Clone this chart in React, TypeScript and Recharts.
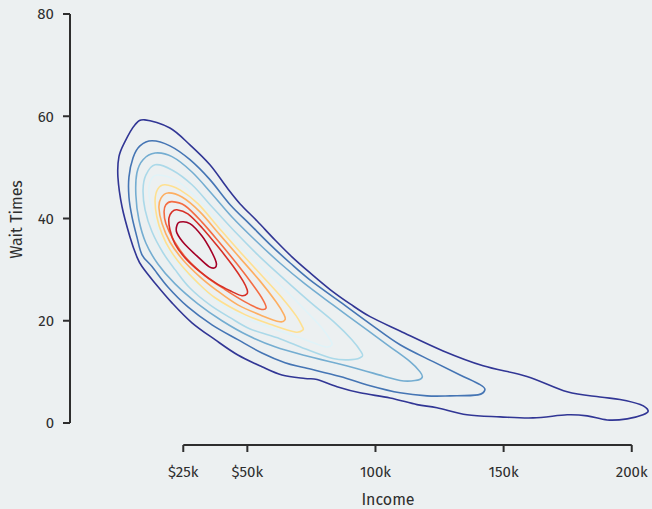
import { ComposedChart, Line, XAxis, YAxis } from "recharts";

// axis ticks
const incomeTicks = [25, 50, 100, 150, 200];
const incomeTickLabels = ["$25k", "$50k", "100k", "150k", "200k"];
const waitTicks = [0, 20, 40, 60, 80];
// visible income range across the plot, in $k
const incomeDomain = [-19.2, 207.9];

// density contours, outermost first: [income in $k, wait time]
const level1 = [
  [10, 59.3], [19.8, 57.7], [27.6, 54.4], [35.4, 50.5], [42.1, 46.0], [47.1, 42.9], [53.8, 39.5],
  [60.8, 35.8], [67.4, 32.5], [74.4, 29.4], [82.3, 26.1], [90.1, 23.3], [97.9, 20.8], [109.6, 18.0],
  [126.4, 14.1], [142, 11.2], [159.1, 9.1], [174.8, 6.1], [187.6, 5.1], [195.4, 4.6], [203.3, 3.6],
  [206.4, 2.4], [204.4, 1.6], [198.2, 0.8], [190.4, 0.6], [182.6, 1.4], [174.8, 1.6], [161.5, 1.0],
  [148.6, 1.2], [135.7, 1.6], [124, 3.0], [116.2, 3.6], [105.7, 4.9], [94, 5.9], [85, 7.1],
  [77.2, 8.5], [72.5, 8.7], [63.5, 9.4], [55.7, 11.0], [46.3, 13.3], [37.4, 16.3], [28.4, 19.6],
  [20.6, 23.5], [13.9, 27.4], [8.9, 30.6], [6.9, 32.5], [4.2, 36.4], [1.1, 42.3], [-0.5, 48.1],
  [-0.1, 52.1], [2.2, 55.0], [6.1, 58.3],
];
const level2 = [
  [12.8, 55.2], [19.8, 54.2], [27.6, 51.5], [35.4, 47.6], [43.3, 42.7], [51.1, 38.8], [58.9, 34.9],
  [66.7, 31.3], [74.4, 28.0], [86.2, 23.7], [97.9, 19.4], [109.6, 15.3], [122.5, 12.0], [133.0, 9.4],
  [140.8, 7.5], [142.7, 6.5], [140.0, 5.5], [129.1, 5.3], [120.1, 5.3], [109.6, 5.9], [97.9, 7.3],
  [86.2, 9.1], [72.5, 10.8], [64.7, 11.8], [55.7, 13.7], [46.3, 16.3], [36.2, 19.2], [26.8, 22.7],
  [19.0, 26.6], [12.8, 30.6], [8.9, 32.9], [6.9, 36.4], [5.0, 40.3], [3.8, 44.2], [3.8, 48.1],
  [5.4, 51.9], [8.1, 54.2],
];
const level3 = [
  [14.0, 52.8], [20.6, 52.1], [28.4, 49.1], [36.2, 44.8], [44.0, 40.3], [53.0, 35.8], [62.7, 31.3],
  [72.5, 27.2], [83.4, 23.1], [96.7, 18.2], [105.7, 14.9], [113.5, 12.0], [117.4, 10.0], [118.2, 8.9],
  [115.4, 8.3], [109.6, 8.3], [102.9, 9.2], [90.1, 11.0], [72.5, 13.2], [60.8, 14.9], [50.3, 17.1],
  [40.1, 20.0], [30.7, 23.3], [21.8, 27.2], [15.1, 31.1], [10.4, 35.2], [7.7, 39.7], [6.5, 44.6],
  [6.9, 48.9], [9.3, 51.5],
];
const level4 = [
  [14.0, 50.5], [20.6, 49.5], [28.4, 46.6], [36.2, 42.3], [45.2, 37.4], [54.9, 32.5], [64.7, 28.0],
  [74.4, 23.7], [84.2, 19.6], [90.8, 16.3], [94.4, 13.9], [94.7, 13.0], [90.8, 12.4], [83.4, 12.6],
  [72.5, 14.5], [62.7, 16.5], [51.1, 18.4], [43.3, 20.6], [35.4, 23.1], [27.6, 26.4], [21.8, 30.0],
  [17.1, 33.3], [12.8, 37.4], [10.1, 41.7], [9.3, 45.6], [10.4, 48.5],
];
const level5 = [
  [15.1, 48.5], [21.8, 47.6], [29.6, 44.4], [37.4, 40.1], [46.3, 35.0], [55.7, 30.4], [64.7, 26.1],
  [72.5, 22.1], [79.1, 18.6], [82.3, 16.3], [83.0, 15.3], [80.3, 14.9], [72.5, 16.3], [62.7, 18.0],
  [51.1, 20.2], [42.4, 22.3], [34.6, 25.3], [27.6, 28.6], [21.8, 31.9], [17.1, 35.2], [14.0, 39.3],
  [12.0, 43.3], [11.6, 46.2], [12.8, 47.9],
];
const level6 = [
  [17.9, 46.6], [23.7, 45.6], [30.7, 42.9], [38.5, 38.4], [47.1, 33.5], [55.7, 28.8], [63.5, 24.5],
  [69.0, 21.0], [71.3, 19.0], [71.7, 18.2], [68.6, 17.8], [59.6, 19.2], [49.1, 21.2], [37.4, 24.5],
  [30.3, 27.6], [24.5, 30.7], [19.8, 33.9], [16.7, 37.0], [14.7, 40.3], [14.0, 43.6], [15.1, 45.8],
];
const level7 = [
  [19.0, 45.0], [24.5, 44.2], [31.5, 41.3], [39.3, 36.8], [47.1, 32.3], [54.9, 27.8], [61.2, 23.7],
  [64.3, 21.2], [64.7, 20.2], [62.7, 19.8], [55.7, 21.0], [46.3, 23.1], [38.2, 25.9], [31.5, 28.6],
  [24.9, 31.9], [19.8, 35.4], [16.7, 39.0], [15.5, 42.1], [16.3, 44.0],
];
const level8 = [
  [20.6, 43.3], [25.7, 42.5], [32.3, 39.3], [39.3, 35.2], [46.3, 30.9], [52.2, 27.0], [56.1, 24.1],
  [57.3, 22.5], [54.9, 22.3], [49.1, 23.7], [41.3, 26.1], [33.5, 28.8], [26.4, 32.1], [21.4, 35.6],
  [18.2, 39.0], [17.5, 41.3], [18.2, 42.7],
];
const level9 = [
  [22.5, 41.7], [26.8, 40.9], [32.3, 38.2], [38.5, 34.5], [44.4, 30.7], [48.3, 27.8], [49.9, 26.1],
  [49.9, 25.3], [47.9, 24.9], [44.0, 25.7], [38.2, 27.2], [31.5, 29.6], [25.7, 32.3], [21.8, 35.0],
  [19.8, 37.8], [19.4, 40.1], [20.6, 41.3],
];
const level10 = [
  [23.7, 39.3], [27.6, 39.0], [32.3, 36.6], [35.4, 34.1], [37.8, 31.5], [37.4, 30.4], [35.0, 30.6],
  [30.3, 32.7], [25.7, 34.9], [22.5, 37.2], [22.5, 38.6],
];

const levels = [level1, level2, level3, level4, level5, level6, level7, level8, level9, level10];
const levelColors = [
  "#313695", "#4575b4", "#74add1", "#abd9e9", "#e0f3f8",
  "#fee090", "#fdae61", "#f46d43", "#d73027", "#a50026",
];

// closed Catmull-Rom: passes through every point and joins back to the first
// eslint-disable-next-line @typescript-eslint/no-explicit-any
const closedCatmullRom = (context: any) => {
  let pts: number[][] = [];
  return {
    areaStart() {},
    areaEnd() {},
    lineStart() {
      pts = [];
    },
    point(x: number, y: number) {
      pts.push([+x, +y]);
    },
    lineEnd() {
      const n = pts.length;
      if (n < 3) return;
      context.moveTo(pts[0][0], pts[0][1]);
      for (let i = 0; i < n; i += 1) {
        const a = pts[(i + n - 1) % n];
        const b = pts[i];
        const c = pts[(i + 1) % n];
        const d = pts[(i + 2) % n];
        context.bezierCurveTo(
          b[0] + (c[0] - a[0]) / 6,
          b[1] + (c[1] - a[1]) / 6,
          c[0] - (d[0] - b[0]) / 6,
          c[1] - (d[1] - b[1]) / 6,
          c[0],
          c[1],
        );
      }
      context.closePath();
    },
  };
};

const WIDTH = 652;
const HEIGHT = 509;
const TOP = 14;
const Y_AXIS_W = 70;
const X_AXIS_H = 64;
const Y_PAD = { top: 0, bottom: 22 };
const PLOT_W = WIDTH - Y_AXIS_W;
const Y_SPAN = HEIGHT - TOP - X_AXIS_H - Y_PAD.bottom;

// the income axis line only runs between the first and last tick
const pxPerK = PLOT_W / (incomeDomain[1] - incomeDomain[0]);
const xLineStart = (incomeTicks[0] - incomeDomain[0]) * pxPerK;
const xLineLength = (incomeTicks[incomeTicks.length - 1] - incomeTicks[0]) * pxPerK;

const INK = "#2e2e2e";
const FONT = '"Fira Sans", "Open Sans", "Noto Sans", sans-serif';
const tickStyle = { fill: INK, fontSize: 15, fontFamily: FONT };

export default function App() {
  return (
    <div
      style={{
        position: "absolute",
        left: 0,
        top: 0,
        width: WIDTH,
        height: HEIGHT,
        background: "#ecf0f1",
        fontFamily: FONT,
      }}
    >
      <ComposedChart width={WIDTH} height={HEIGHT} margin={{ top: TOP, right: 0, bottom: 0, left: 0 }}>
        <XAxis
          type="number"
          dataKey="x"
          domain={incomeDomain}
          ticks={incomeTicks}
          tickFormatter={(v: number) => incomeTickLabels[incomeTicks.indexOf(v)]}
          height={X_AXIS_H}
          tickSize={7}
          tickMargin={14}
          tick={tickStyle}
          tickLine={{ stroke: INK, strokeWidth: 2 }}
          axisLine={{
            stroke: INK,
            strokeWidth: 2,
            strokeDasharray: `0 ${xLineStart} ${xLineLength} ${WIDTH}`,
          }}
          label={{ value: "Income", position: "insideBottom", offset: 4, dx: 27, fill: INK, fontSize: 16, fontFamily: FONT }}
        />
        <YAxis
          type="number"
          dataKey="y"
          domain={[0, 80]}
          ticks={waitTicks}
          padding={Y_PAD}
          width={Y_AXIS_W}
          tickSize={7}
          tickMargin={9}
          tick={tickStyle}
          tickLine={{ stroke: INK, strokeWidth: 2 }}
          axisLine={{ stroke: INK, strokeWidth: 2, strokeDasharray: `${Y_SPAN} ${HEIGHT}` }}
          label={{
            value: "Wait Times",
            angle: -90,
            position: "insideLeft",
            offset: 16,
            dy: -10,
            fill: INK,
            fontSize: 16,
            fontFamily: FONT,
            style: { textAnchor: "middle" },
          }}
        />
        {levels.map((pts, i) => (
          <Line
            key={i}
            data={pts.map(([x, y]) => ({ x, y }))}
            dataKey="y"
            type={closedCatmullRom}
            stroke={levelColors[i]}
            strokeWidth={1.6}
            dot={false}
            activeDot={false}
            isAnimationActive={false}
          />
        ))}
      </ComposedChart>
    </div>
  );
}
